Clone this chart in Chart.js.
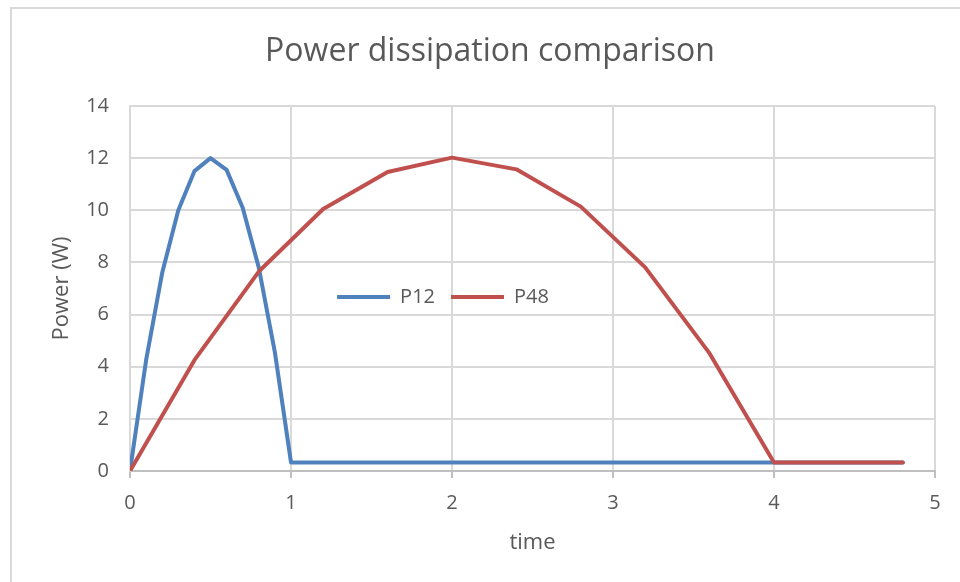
<!DOCTYPE html>
<html>
<head>
<meta charset="utf-8">
<script src="https://cdn.jsdelivr.net/npm/chart.js@4"></script>
<style>
  html, body { margin: 0; padding: 0; background: #fff; }
  #frame {
    position: absolute; left: 10px; top: 7px;
    width: 980px; height: 600px;
    border: 2px solid #d9d9d9;
  }
  #myChart { position: absolute; left: 0; top: 0; }
</style>
</head>
<body>
<div id="frame"></div>
<canvas id="myChart" width="960" height="582"></canvas>
<script>
const p12Time = [0, 0.1, 0.2, 0.3, 0.4, 0.5, 0.6, 0.7, 0.8, 0.9, 1.0, 4.8]
const p12Power = [0, 4.25, 7.6, 10.0, 11.5, 12.0, 11.55, 10.1, 7.8, 4.55, 0.33, 0.33]

const p48Time = [0, 0.4, 0.8, 1.2, 1.6, 2.0, 2.4, 2.8, 3.2, 3.6, 4.0, 4.4, 4.8]
const p48Power = [0, 4.25, 7.65, 10.05, 11.47, 12.02, 11.57, 10.14, 7.81, 4.51, 0.33, 0.33, 0.33]

const xTicks = [0, 1, 2, 3, 4, 5]
const yTicks = [0, 2, 4, 6, 8, 10, 12, 14]

const toPoints = (xs, ys) => xs.map((x, i) => ({ x: x, y: ys[i] }))

Chart.defaults.font.family = "'Open Sans', sans-serif"
Chart.defaults.color = '#595959'

// the legend takes no room at the top and is drawn inside the plot instead
const legendInside = {
  id: 'legendInside',
  beforeLayout(chart) {
    const lg = chart.legend
    if (!lg || lg._flat) return
    const fit = lg.fit
    lg.fit = function () {
      fit.call(this)
      this._fullHeight = this.height
      this.height = 0
    }
    lg._flat = true
  },
  afterLayout(chart) {
    const lg = chart.legend
    const dx = -47
    const dy = 165
    lg.left += dx
    lg.right += dx
    lg.top += dy
    lg.height = lg._fullHeight
    lg.bottom = lg.top + lg.height
  },
}

var ctx = document.getElementById('myChart').getContext('2d')
var myChart = new Chart(ctx, {
  type: 'scatter',
  plugins: [legendInside],
  data: {
    datasets: [
      {
        label: 'P12',
        data: toPoints(p12Time, p12Power),
        showLine: true,
        borderColor: '#4f81bd',
        backgroundColor: '#4f81bd',
        borderWidth: 4,
        pointRadius: 0,
        borderJoinStyle: 'round',
        borderCapStyle: 'round',
        order: 1,
      },
      {
        label: 'P48',
        data: toPoints(p48Time, p48Power),
        showLine: true,
        borderColor: '#c0504d',
        backgroundColor: '#c0504d',
        borderWidth: 4,
        pointRadius: 0,
        borderJoinStyle: 'round',
        borderCapStyle: 'round',
        order: 0,
      },
    ],
  },
  options: {
    responsive: false,
    animation: false,
    layout: { padding: { left: 20, right: 0, top: 0, bottom: 0 } },
    scales: {
      x: {
        type: 'linear',
        min: 0,
        max: 5,
        afterBuildTicks: (scale) => {
          scale.ticks = xTicks.map((v) => ({ value: v }))
        },
        afterFit: (scale) => {
          scale.height = 111
        },
        grid: {
          color: '#d9d9d9',
          lineWidth: 2,
          tickColor: '#bfbfbf',
          tickLength: 7,
        },
        border: { color: '#bfbfbf', width: 2 },
        ticks: { font: { size: 20 }, padding: 13 },
        title: {
          display: true,
          text: 'time',
          font: { size: 22 },
          padding: { bottom: 26 },
        },
      },
      y: {
        type: 'linear',
        min: 0,
        max: 14,
        afterBuildTicks: (scale) => {
          scale.ticks = yTicks.map((v) => ({ value: v }))
        },
        afterFit: (scale) => {
          scale.width = 110
        },
        grid: { color: '#d9d9d9', lineWidth: 2, drawTicks: false },
        border: { color: '#d9d9d9', width: 2 },
        ticks: { font: { size: 20 }, padding: 21 },
        title: {
          display: true,
          text: 'Power (W)',
          font: { size: 22 },
          padding: { top: 29 },
        },
      },
      // empty right-hand axis that only keeps the gap after x = 5
      yRight: {
        type: 'linear',
        position: 'right',
        min: 0,
        max: 14,
        afterFit: (scale) => {
          scale.width = 25
        },
        grid: { drawOnChartArea: false, drawTicks: false },
        border: { display: false },
        ticks: { display: false },
      },
    },
    plugins: {
      title: {
        display: true,
        text: 'Power dissipation comparison',
        font: { size: 32, weight: 'normal' },
        padding: { top: 33, bottom: 34.6 },
      },
      legend: {
        position: 'top',
        labels: {
          usePointStyle: true,
          pointStyle: 'line',
          pointStyleWidth: 53,
          boxHeight: 20,
          padding: 16,
          font: { size: 20 },
          sort: (a, b) => a.datasetIndex - b.datasetIndex,
        },
      },
      tooltip: { enabled: false },
    },
  },
})
</script>
</body>
</html>
